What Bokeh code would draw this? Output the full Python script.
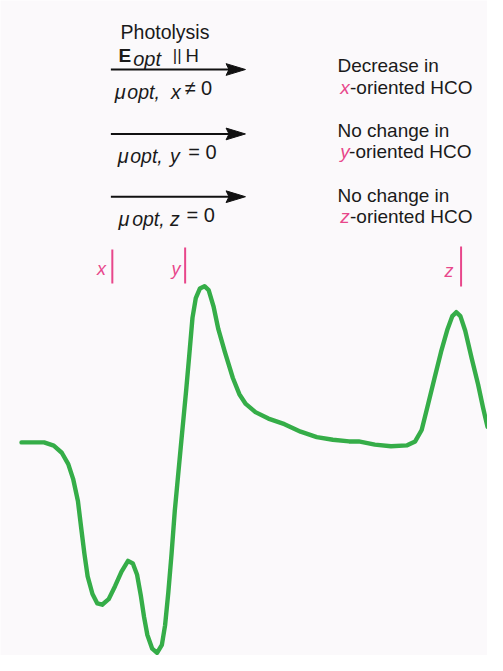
from bokeh.plotting import figure
from bokeh.models import Range1d
from bokeh.core.properties import value
from bokeh.embed import file_html
from bokeh.resources import INLINE

# ---- data ----
field = [21.7, 45, 55, 63.3, 70, 75, 80, 83.3, 86.7, 90, 95, 100, 105, 111.7, 118.3, 125,
         131.7, 136.7, 141, 145, 148.3, 151.7, 156.7, 161.7, 166.7, 170, 173.3, 176.7, 180,
         183.3, 186.7, 189.3, 191.7, 195, 198.3, 201.7, 206, 210.7, 215, 220, 225, 231.7,
         240, 246.7, 253.3, 263.3, 276.7, 293.3, 310, 326.7, 343.3, 360, 370, 386.7, 403.3,
         420, 428.3, 435, 441.7, 448.3, 455, 461.7, 466.7, 470.7, 475, 480, 486.7, 493.3,
         498.3, 503]
signal = [-0.7, -0.7, -4, -11.3, -23, -38, -61, -88, -115, -138, -156, -165.7, -167, -161.3,
          -148, -133, -122, -124.7, -136, -158, -179.7, -198, -212, -216.3, -208, -188,
          -154.7, -114.7, -71, -36, 0, 27, 52, 89, 127, 147, 157, 159.3, 155.3, 138.7, 115.3,
          92, 65.3, 48.7, 38.7, 30.3, 23.7, 18, 10.3, 4.7, 2, 0.3, 0.3, -3, -4.7, -3.7, 0.3,
          12, 38.7, 65.3, 92, 115.3, 128.7, 132.7, 128.7, 113.7, 85.3, 58.7, 35.3, 15.3]

orient_labels = ["x", "y", "z"]
orient_positions = [115.5, 190.7, 475.7]

mu_symbol = ["\u03bc", "\u03bc", "\u03bc"]
mu_sub = ["opt,", "opt,", "opt,"]
mu_axis = ["x", "y", "z"]
mu_values = ["\u2260 0", "= 0", "= 0"]
result_first = ["Decrease in", "No change in", "No change in"]
result_second = ["-oriented HCO", "-oriented HCO", "-oriented HCO"]

GREEN = "#35ad48"
PINK = "#e8478b"
INK = "#1a1a1a"
FONT = value("Liberation Sans")
BG = "#fbf9fb"

# the figure shows the whole reference frame (503 x 671 units)
p = figure(width=487, height=655, output_backend="svg", toolbar_location=None,
           x_range=Range1d(0, 503), y_range=Range1d(-219, 452),
           min_border=0, background_fill_color=BG, border_fill_color=BG,
           outline_line_color=None)
p.axis.visible = False
p.grid.visible = False
p.extra_y_ranges = {"page": Range1d(start=671, end=0)}

# spectrum
p.line(field, signal, line_color=GREEN, line_width=4.4, line_join="round", line_cap="round")

# orientation markers
mark_top = [255, 253, 252]
mark_bot = [290, 290, 293]
p.segment(x0=orient_positions, y0=mark_top, x1=orient_positions, y1=mark_bot,
          y_range_name="page", line_color=PINK, line_width=2)
p.text(x=[109, 186, 468], y=[275, 275, 277], text=orient_labels,
       y_range_name="page", text_color=PINK, text_font=FONT, text_font_size=value("18px"),
       text_font_style="italic", text_align="right", text_baseline="alphabetic")

# header
p.text(x=[124], y=[32], text=["Photolysis"], y_range_name="page", text_color=INK,
       text_font=FONT, text_font_size=value("19.5px"), text_baseline="alphabetic")
p.text(x=[122], y=[56.7], text=["E"], y_range_name="page", text_color=INK,
       text_font=FONT, text_font_size=value("19px"), text_font_style="bold",
       text_baseline="alphabetic")
p.text(x=[137], y=[60], text=["opt"], y_range_name="page", text_color=INK,
       text_font=FONT, text_font_size=value("20px"), text_font_style="italic",
       text_baseline="alphabetic")
p.text(x=[178], y=[56.7], text=["||"], y_range_name="page", text_color=INK,
       text_font=FONT, text_font_size=value("17px"), text_baseline="alphabetic")
p.text(x=[191], y=[56.7], text=["H"], y_range_name="page", text_color=INK,
       text_font=FONT, text_font_size=value("18.5px"), text_baseline="alphabetic")

# arrows (shaft + slim filled head)
arrow_y = [70.7, 136.7, 201]
shaft_start, tip, head_len, head_half = 114, 253, 20, 6
p.segment(x0=[shaft_start] * 3, y0=arrow_y, x1=[tip - 6] * 3, y1=arrow_y,
          y_range_name="page", line_color="#111111", line_width=2)
p.patches(xs=[[tip, tip - head_len, tip - head_len + 3, tip - head_len] for _ in arrow_y],
          ys=[[ay, ay - head_half, ay, ay + head_half] for ay in arrow_y],
          y_range_name="page", fill_color="#111111", line_color="#111111", line_width=1)

mu_base = [94, 159.5, 223.5]
p.text(x=[118, 121, 122], y=mu_base, text=mu_symbol, y_range_name="page",
       text_color=INK, text_font=FONT, text_font_size=value("20px"),
       text_font_style="italic", text_baseline="alphabetic")
p.text(x=[131, 134, 136], y=mu_base, text=mu_sub, y_range_name="page",
       text_color=INK, text_font=FONT, text_font_size=value("19.5px"),
       text_font_style="italic", text_baseline="alphabetic")
p.text(x=[176, 175, 175], y=mu_base, text=mu_axis, y_range_name="page",
       text_color=INK, text_font=FONT, text_font_size=value("19.5px"),
       text_font_style="italic", text_baseline="alphabetic")
p.text(x=[190, 194, 192], y=[89.5, 155, 219.5], text=mu_values, y_range_name="page",
       text_color=INK, text_font=FONT, text_font_size=value("20px"),
       text_baseline="alphabetic")

# results column
p.text(x=[348, 348, 348], y=[66.7, 133.3, 199.3], text=result_first, y_range_name="page",
       text_color=INK, text_font=FONT, text_font_size=value("19px"),
       text_baseline="alphabetic")
p.text(x=[351, 351, 351], y=[89.3, 155, 221.7], text=orient_labels, y_range_name="page",
       text_color=PINK, text_font=FONT, text_font_size=value("19px"),
       text_font_style="italic", text_baseline="alphabetic")
p.text(x=[361, 360, 361], y=[89.3, 155, 221.7], text=result_second, y_range_name="page",
       text_color=INK, text_font=FONT, text_font_size=value("19px"),
       text_baseline="alphabetic")

open("out.html", "w").write(file_html(p, INLINE))
